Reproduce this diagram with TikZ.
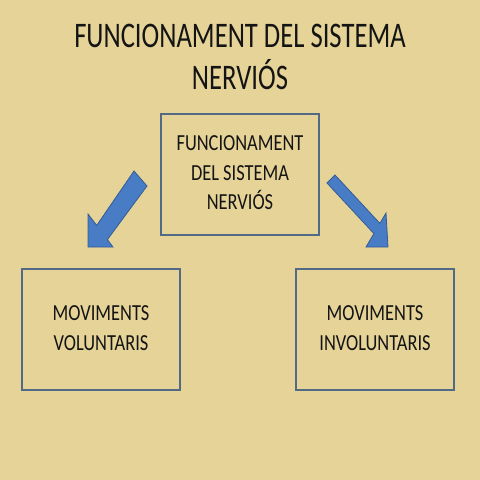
\documentclass[tikz,border=0pt]{standalone}
\usepackage{fontspec}
\setmainfont{Carlito}
\definecolor{bgtan}{RGB}{230,211,152}
\definecolor{boxline}{RGB}{82,106,134}
\definecolor{arrowfill}{RGB}{72,124,196}
\definecolor{arrowline}{RGB}{52,92,150}
\definecolor{txt}{RGB}{20,20,20}
\newcommand{\squeezetext}[2]{\scalebox{#1}[1]{\begin{tabular}{@{}c@{}}#2\end{tabular}}}
\tikzset{
  box/.style={draw=boxline, line width=2pt, minimum width=158pt, minimum height=121pt, inner sep=0pt, text=txt, font=\fontsize{23}{29.5}\selectfont},
  blockarrow/.style={fill=arrowfill, draw=arrowline, line width=0.8pt, line join=miter},
  titletext/.style={inner sep=0pt, text=txt, font=\fontsize{36}{41}\selectfont}
}
\begin{document}
\begin{tikzpicture}[x=1pt,y=-1pt]
\fill[bgtan] (0,0) rectangle (480,480);
\useasboundingbox (0,0) rectangle (480,480);
\node[titletext] (title) at (240,60) {\squeezetext{0.74}{FUNCIONAMENT DEL SISTEMA\\NERVIÓS}};
\node[box] (centre) at (240,174.5) {\squeezetext{0.8}{FUNCIONAMENT\\DEL SISTEMA\\NERVIÓS}};
\node[box] (vol) at (101,329.5) {\squeezetext{0.8}{MOVIMENTS\\VOLUNTARIS}};
\node[box] (invol) at (375,329.5) {\squeezetext{0.8}{MOVIMENTS\\INVOLUNTARIS}};
% left block arrow
\draw[blockarrow] (134,171) -- (147,186) -- (107.4,239.6) -- (113,247) -- (88,247) -- (88,214) -- (96.7,225.4) -- cycle;
% right block arrow
\draw[blockarrow] (335,175) -- (379.9,223.4) -- (386,213) -- (388,247) -- (366,247) -- (373.9,233.6) -- (327,183) -- cycle;
\end{tikzpicture}
\end{document}
